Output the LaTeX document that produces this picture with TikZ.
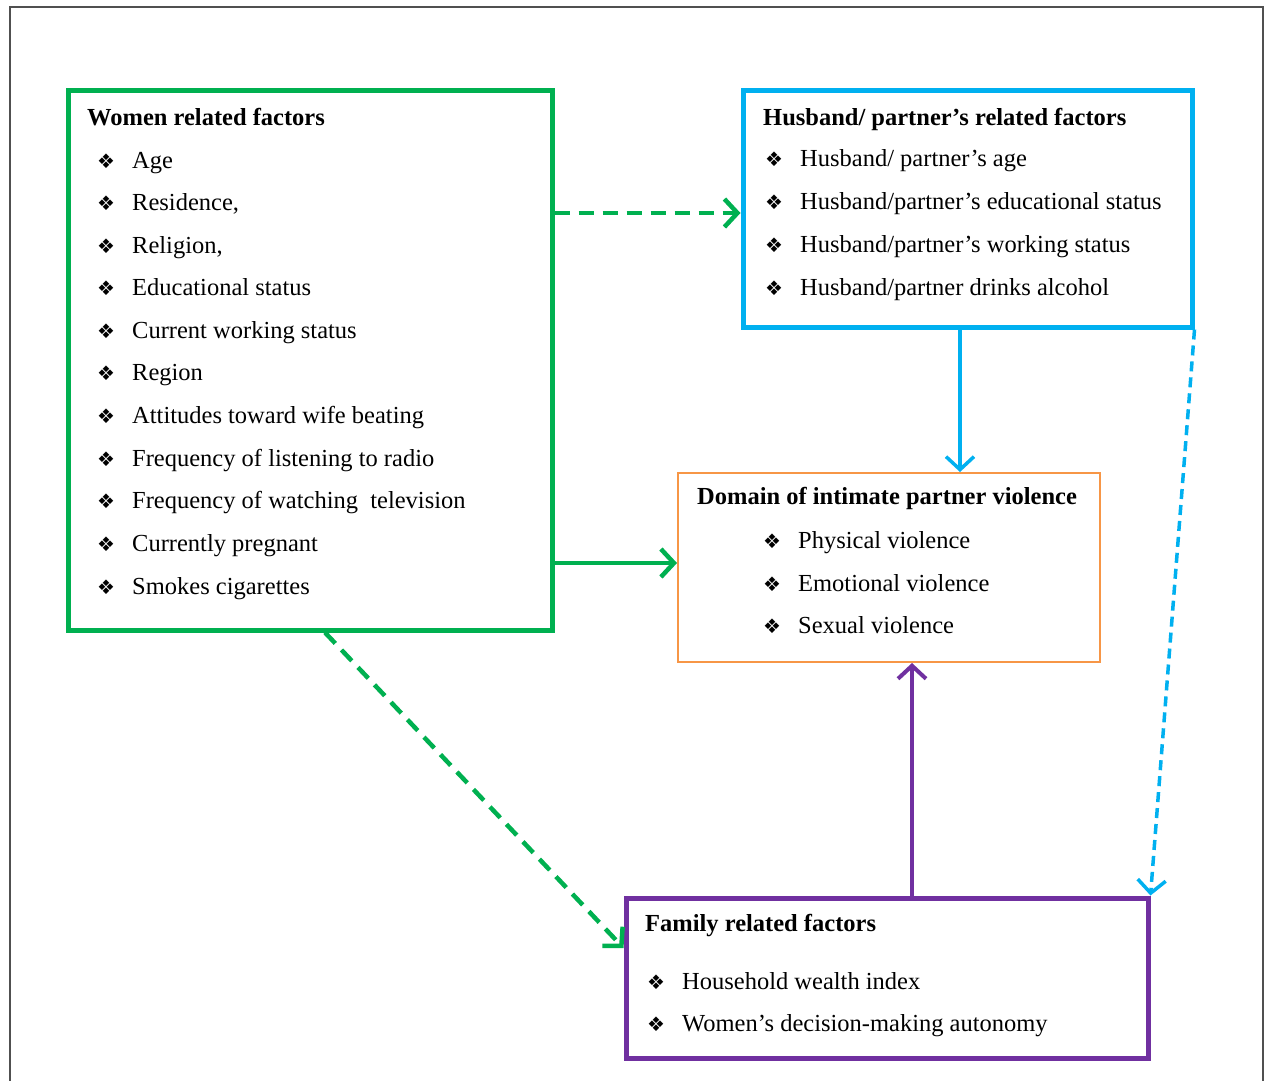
\documentclass[tikz,border=0pt]{standalone}
\usepackage{fontspec}
\setmainfont{Liberation Serif}
\newfontfamily\symfont{DejaVu Sans}
\usetikzlibrary{arrows.meta}
\definecolor{wgreen}{RGB}{0,176,80}
\definecolor{wblue}{RGB}{0,176,240}
\definecolor{worange}{RGB}{247,150,70}
\definecolor{wpurple}{RGB}{112,48,160}
\definecolor{frame}{RGB}{80,80,80}
\newcommand{\bul}{\makebox[35pt][l]{\symfont\fontsize{20}{20}\selectfont ❖}}
\begin{document}
\begin{tikzpicture}[x=1pt,y=-1pt,
  box/.style={draw, rectangle, inner sep=0pt},
  txt/.style={anchor=west, inner sep=0pt, yshift=-2pt, font=\fontsize{24.5}{29}\selectfont, text height=16pt, text depth=5pt},
  ttl/.style={txt, font=\fontsize{24.5}{29}\selectfont\bfseries},
  tip/.style={-{Straight Barb[length=13pt,width=28pt]}}
]
\fill[white] (0,0) rectangle (1266,1080);
\useasboundingbox (0,0) rectangle (1266,1080);
\draw[line width=2pt, frame] (10,1082) -- (10,7) -- (1263,7) -- (1263,1082);

% boxes
\node[box, draw=wgreen, line width=5pt, minimum width=484pt, minimum height=540pt] (green) at (310,360) {};
\node[box, draw=wblue, line width=5pt, minimum width=449pt, minimum height=237pt] (blue) at (967.5,208.5) {};
\node[box, draw=worange, line width=2pt, minimum width=422pt, minimum height=189pt] (orange) at (889,567.5) {};
\node[box, draw=wpurple, line width=5pt, minimum width=522pt, minimum height=160pt] (purple) at (887,978) {};

% green text
\node[ttl] (gt) at (87,118) {Women related factors};
\node[txt] (g1) at (97,161) {\bul Age};
\node[txt] (g2) at (97,203) {\bul Residence,};
\node[txt] (g3) at (97,246) {\bul Religion,};
\node[txt] (g4) at (97,288) {\bul Educational status};
\node[txt] (g5) at (97,331) {\bul Current working status};
\node[txt] (g6) at (97,373) {\bul Region};
\node[txt] (g7) at (97,416) {\bul Attitudes toward wife beating};
\node[txt] (g8) at (97,459) {\bul Frequency of listening to radio};
\node[txt] (g9) at (97,501) {\bul Frequency of watching\ \ television};
\node[txt] (g10) at (97,544) {\bul Currently pregnant};
\node[txt] (g11) at (97,587) {\bul Smokes cigarettes};

% blue text
\node[ttl] (bt) at (763,118) {Husband/ partner’s related factors};
\node[txt] (b1) at (765,159) {\bul Husband/ partner’s age};
\node[txt] (b2) at (765,202) {\bul Husband/partner’s educational status};
\node[txt] (b3) at (765,245) {\bul Husband/partner's working status};
\node[txt] (b4) at (765,288) {\bul Husband/partner drinks alcohol};

% orange text
\node[ttl] (ot) at (697,497) {Domain of intimate partner violence};
\node[txt] (o1) at (763,541) {\bul Physical violence};
\node[txt] (o2) at (763,584) {\bul Emotional violence};
\node[txt] (o3) at (763,626) {\bul Sexual violence};

% purple text
\node[ttl] (pt) at (645,924) {Family related factors};
\node[txt] (p1) at (647,982) {\bul Household wealth index};
\node[txt] (p2) at (647,1024) {\bul Women’s decision-making autonomy};

% connectors
\draw[tip, wgreen, line width=4.5pt, dash pattern=on 15pt off 9pt] ([yshift=-4.5pt]green.east |- blue.west) -- ([yshift=-4.5pt]blue.west);
\draw[tip, wblue, line width=3.5pt] ([xshift=-7.5pt]blue.south) -- ([xshift=-7.5pt]blue.south |- orange.north);
\draw[tip, wgreen, line width=4.5pt] ([yshift=4.5pt]green.east |- orange.west) -- ([yshift=4.5pt]orange.west);
\draw[tip, wpurple, line width=4pt] ([xshift=25pt]purple.north) -- ([xshift=25pt]purple.north |- orange.south);
\draw[tip, wgreen, line width=4.5pt, dash pattern=on 15pt off 9pt] ([xshift=15pt]green.south) -- ([yshift=30pt]purple.west);
\draw[tip, wblue, line width=3.5pt, dash pattern=on 10pt off 6pt] (blue.south east) -- (purple.north east);
\end{tikzpicture}
\end{document}
